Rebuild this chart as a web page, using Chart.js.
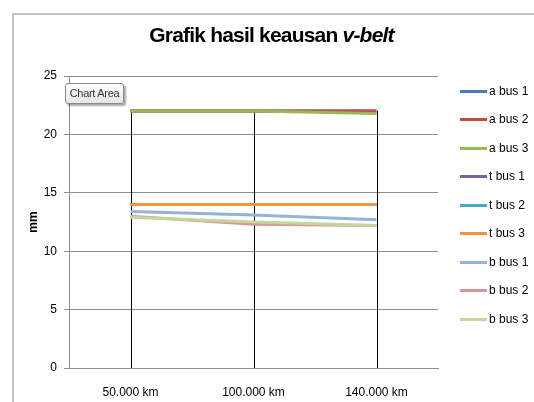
<!DOCTYPE html>
<html><head><meta charset="utf-8">
<script src="https://cdn.jsdelivr.net/npm/chart.js@4"></script>
<style>
html,body{margin:0;padding:0;background:#fff;overflow:hidden;}
#wrap{position:relative;width:534px;height:402px;overflow:hidden;}
#frame{position:absolute;left:12px;top:13px;width:600px;height:400px;border-left:2px solid #c4c4c4;border-top:2px solid #c4c4c4;}
#title{position:absolute;left:0;width:543px;top:23px;text-align:center;font:bold 21px "Liberation Sans",sans-serif;letter-spacing:-0.8px;color:#000;}
#cv{position:absolute;left:0;top:0;}
#tip{position:absolute;left:65px;top:83px;width:57px;height:19px;border:1px solid #8a8a8a;border-radius:3px;background:linear-gradient(#ffffff,#e6e6e6);box-shadow:2px 2px 2px rgba(0,0,0,0.35);font:11px "Liberation Sans",sans-serif;letter-spacing:-0.3px;color:#333;line-height:19px;text-align:center;}
#legend{position:absolute;left:460px;top:0;}
.li{position:absolute;left:0;height:14px;white-space:nowrap;font:12px "Liberation Sans",sans-serif;color:#000;}
.li span.ln{position:absolute;left:0;top:6px;width:27px;height:3px;}
.li span.tx{position:absolute;left:29px;top:0;}
</style></head>
<body>
<div id="wrap">
  <div id="frame"></div>
  <canvas id="cv" width="534" height="402"></canvas>
  <div id="title">Grafik hasil keausan <i>v-belt</i></div>
  <div id="tip">Chart Area</div>
  <div id="legend"></div>
</div>
<script>
const categories = ["50.000 km", "100.000 km", "140.000 km"];
const seriesNames = ["a bus 1","a bus 2","a bus 3","t bus 1","t bus 2","t bus 3","b bus 1","b bus 2","b bus 3"];
const aBus1 = [22, 22, 22];
const aBus2 = [22, 22, 22];
const aBus3 = [22, 22, 21.8];
const tBus1 = [14, 14, 14];
const tBus2 = [14, 14, 14];
const tBus3 = [14, 14, 14];
const bBus1 = [13.4, 13.1, 12.7];
const bBus2 = [13.0, 12.3, 12.2];
const bBus3 = [12.9, 12.5, 12.2];
const yTicks = [0, 5, 10, 15, 20, 25];
const colors = ["#4A7EBB","#BE4B48","#98B954","#7D60A0","#46AAC5","#F69240","#95B3D7","#D99694","#C3D69B"];
const values = [aBus1,aBus2,aBus3,tBus1,tBus2,tBus3,bBus1,bBus2,bBus3];

const FONT = '"Liberation Sans",sans-serif';

const dropLines = {
  id: 'dropLines',
  beforeDatasetsDraw(chart) {
    const {ctx, scales:{x, y}} = chart;
    ctx.save();
    ctx.strokeStyle = '#000';
    ctx.lineWidth = 1;
    categories.forEach((c, i) => {
      let mx = -Infinity;
      chart.data.datasets.forEach(ds => { if (ds.data[i] > mx) mx = ds.data[i]; });
      const px = Math.round(x.getPixelForValue(i)) + 0.5;
      ctx.beginPath();
      ctx.moveTo(px, y.getPixelForValue(mx));
      ctx.lineTo(px, y.getPixelForValue(0));
      ctx.stroke();
    });
    ctx.restore();
  }
};

const chart = new Chart(document.getElementById('cv'), {
  type: 'line',
  data: {
    labels: categories,
    datasets: seriesNames.map((n, i) => ({
      label: n, data: values[i], borderColor: colors[i], backgroundColor: colors[i],
      borderWidth: 3, pointRadius: 0, tension: 0, fill: false,
      order: seriesNames.length - i
    }))
  },
  options: {
    responsive: false,
    animation: false,
    devicePixelRatio: 1,
    layout: { padding: { left: 0, right: 96, top: 76, bottom: 0 } },
    plugins: { legend: { display: false }, tooltip: { enabled: false }, title: { display: false } },
    scales: {
      x: {
        offset: true,
        grid: { display: false },
        border: { display: true, color: '#8e8e8e', width: 1 },
        ticks: { color: '#000', font: { family: FONT, size: 12 }, padding: 9, maxRotation: 0 },
        afterFit(s) { s.height = 34; }
      },
      y: {
        min: 0, max: 25,
        afterBuildTicks(s) { s.ticks = yTicks.map(v => ({ value: v })); },
        grid: { color: '#8e8e8e', lineWidth: 1, tickLength: 5, drawTicks: true },
        border: { display: true, color: '#8e8e8e', width: 1 },
        ticks: { color: '#000', font: { family: FONT, size: 12 }, padding: 7 },
        title: { display: true, text: 'mm', color: '#000', font: { family: FONT, size: 12, weight: 'bold' }, padding: { top: 26, bottom: 0 } },
        afterFit(s) { s.width = 69; }
      }
    }
  },
  plugins: [dropLines]
});

const lg = document.getElementById('legend');
const legendTops = [84, 112, 141, 169, 198, 226, 255, 283, 312];
seriesNames.forEach((n, i) => {
  const d = document.createElement('div');
  d.className = 'li';
  d.style.top = legendTops[i] + 'px';
  d.innerHTML = '<span class="ln" style="background:' + colors[i] + '"></span><span class="tx">' + n + '</span>';
  lg.appendChild(d);
});
</script>
</body></html>
